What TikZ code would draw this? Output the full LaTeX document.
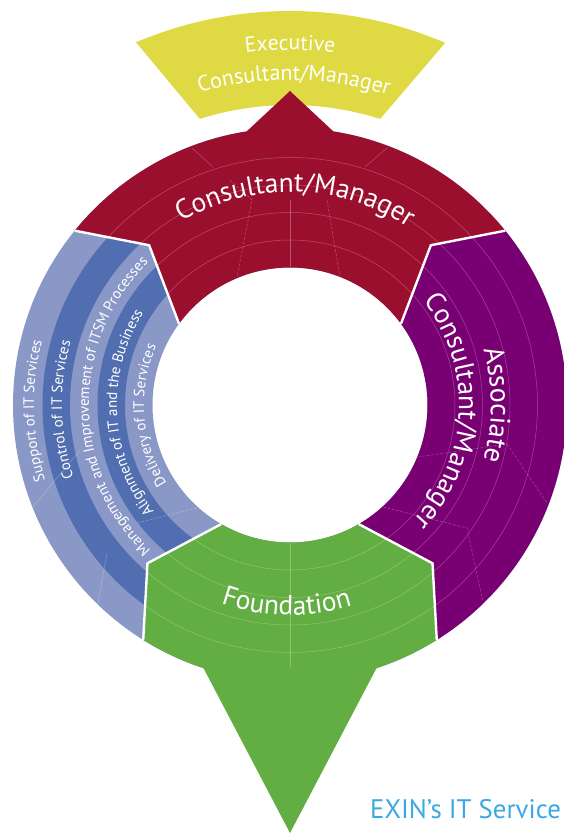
\documentclass[tikz,border=0pt]{standalone}
\usepackage{fontspec}
\setmainfont{PT Sans}
\usetikzlibrary{decorations.text}
\definecolor{cred}{HTML}{9B0F2E}
\definecolor{cpurple}{HTML}{790072}
\definecolor{cgreen}{HTML}{62AE43}
\definecolor{cyellow}{HTML}{DFDA43}
\definecolor{clblue}{HTML}{8A98C8}
\definecolor{cdblue}{HTML}{516EB0}
\definecolor{cexin}{HTML}{3AA8E2}
\def\redshape{(141:277pt) arc[start angle=141, end angle=99, radius=277pt] -- (90:314pt) -- (81:277pt) arc[start angle=81, end angle=39, radius=277pt] -- (48.6:213pt) -- (36.2:137.5pt) arc[start angle=36.2, end angle=143.8, radius=137.5pt] -- (131.4:213pt) -- cycle}
\def\purpleshape{(39:277pt) arc[start angle=39, end angle=-58, radius=277pt] -- (-48:213pt) -- (-60:137.5pt) arc[start angle=-60, end angle=36.2, radius=137.5pt] -- (48.6:213pt) -- cycle}
\def\greenshape{(238:277pt) arc[start angle=238, end angle=251.8, radius=277pt] -- (0,-428) -- (288.2:277pt) arc[start angle=288.2, end angle=302, radius=277pt] -- (312:213pt) -- (300:137.5pt) arc[start angle=300, end angle=240, radius=137.5pt] -- (228:213pt) -- cycle}
\tikzset{
  sep/.style={draw=white, line width=2.4pt},
  tex/.style={draw=white, draw opacity=0.28, line width=0.5pt},
  texd/.style={draw=white, draw opacity=0.28, line width=0.5pt, dash pattern=on 3pt off 1.5pt},
  arctext/.style 2 args={decorate, decoration={text along path, text align=center, text color=white, text={|\fontsize{#1}{#1}\selectfont|#2}}},
}
\begin{document}
\begin{tikzpicture}[x=1pt,y=1pt]
\useasboundingbox (-290,-429) rectangle (273,405);
% yellow top sector
\fill[cyellow] (113:394pt) arc[start angle=113, end angle=66.8, radius=394pt] -- (72.5:300pt) arc[start angle=72.5, end angle=107.5, radius=300pt] -- cycle;
% blue bands (full ring, covered elsewhere)
\fill[clblue, even odd rule] (0,0) circle[radius=277pt] circle[radius=137.5pt];
\fill[cdblue, even odd rule] (0,0) circle[radius=247.5pt] circle[radius=220pt];
\fill[cdblue, even odd rule] (0,0) circle[radius=192.5pt] circle[radius=165pt];
% segments
\fill[cred] \redshape;
\fill[cpurple] \purpleshape;
\fill[cgreen] \greenshape;
% texture
\begin{scope}
\clip \redshape;
\foreach \r in {165,192.5,220,247.5} \draw[tex] (0,0) circle[radius=\r pt];
\end{scope}
\begin{scope}
\clip \purpleshape;
\foreach \r in {165,192.5,220,247.5} \draw[tex] (0,0) circle[radius=\r pt];
\end{scope}
\begin{scope}
\clip \greenshape;
\foreach \r in {165,192.5,220,247.5} \draw[tex] (0,0) circle[radius=\r pt];
\end{scope}
\draw[tex] (0,205) -- (0,137.5);
\draw[texd] (-60,225) -- (-38,205) -- (-53,128);
\draw[texd] (37,205) -- (50,128);
\draw[tex] (-98,257) -- (-77,238);
\draw[tex] (97,257) -- (75,238);
\draw[texd] (128,-52) -- (217,-39) -- (257,-98);
\draw[texd] (93,-102) -- (177,-123) -- (193,-197);
\draw[tex] (0,-137.5) -- (0,-262);
\draw[tex] (-257,-102) -- (-210,-45);
\draw[texd] (-153,-118) -- (-93,-103);
\draw[tex] (-192,-198) -- (-183,-148);
% white separators
\draw[sep] (141:277pt) -- (131.4:213pt) -- (143.8:137.5pt);
\draw[sep] (39:277pt) -- (48.6:213pt) -- (36.2:137.5pt);
\draw[sep] (238:277pt) -- (228:213pt) -- (240:137.5pt);
\draw[sep] (-58:277pt) -- (-48:213pt) -- (-60:137.5pt);
% texts
\path[arctext={21.5}{Executive}] (130:355pt) arc[start angle=130, end angle=50, radius=355pt];
\path[arctext={22}{Consultant/Manager}] (129.3:325pt) arc[start angle=129.3, end angle=49.3, radius=325pt];
\path[arctext={27.5}{Consultant/Manager}] (148.5:213pt) arc[start angle=148.5, end angle=28.5, radius=213pt];
\path[arctext={28}{Associate}] (60:201pt) arc[start angle=60, end angle=-60, radius=201pt];
\path[arctext={27.5}{Consultant/Manager}] (57.5:169pt) arc[start angle=57.5, end angle=-62.5, radius=169pt];
\path[arctext={27.5}{Foundation}] (209:210pt) arc[start angle=209, end angle=329, radius=210pt];
\path[arctext={15}{Support of IT Services}] (241.3:256pt) arc[start angle=241.3, end angle=121.3, radius=256pt];
\path[arctext={15}{Control of IT Services}] (241.2:228pt) arc[start angle=241.2, end angle=121.2, radius=228pt];
\path[arctext={15}{Management and Improvement of ITSM Processes}] (240.5:201pt) arc[start angle=240.5, end angle=120.5, radius=201pt];
\path[arctext={15}{Alignment of IT and the Business}] (243:173pt) arc[start angle=243, end angle=123, radius=173pt];
\path[arctext={15}{Delivery of IT Services}] (244.3:146pt) arc[start angle=244.3, end angle=124.3, radius=146pt];
\node[anchor=base west, text=cexin, font=\fontsize{26.8}{30}\selectfont, inner sep=0pt] (exin) at (80,-413) {EXIN’s IT Service};
\end{tikzpicture}
\end{document}
